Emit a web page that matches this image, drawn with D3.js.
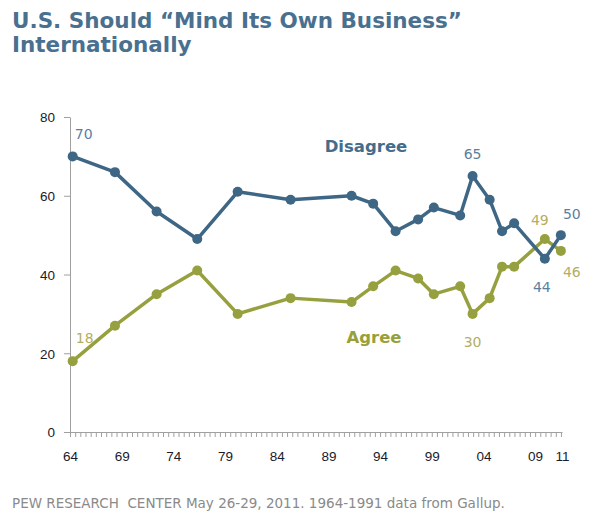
<!DOCTYPE html>
<html lang="en">
<head>
    <meta charset="UTF-8">
    <title>U.S. Should "Mind Its Own Business" Internationally</title>
    <script src="https://d3js.org/d3.v7.min.js"></script>
    <style>
        body {
            margin: 0;
            background: #fff;
            font-family: "DejaVu Sans", Verdana, sans-serif;
        }
        .title {
            font-size: 21.5px;
            font-weight: bold;
            fill: #4a7090;
        }
        .axis text {
            font-size: 13.5px;
            fill: #1a1a2a;
        }
        .axis path, .axis line {
            stroke: #a0a0a0;
        }
        .val-label {
            font-size: 14px;
            text-anchor: middle;
        }
        .series-label {
            font-size: 16.5px;
            font-weight: bold;
            text-anchor: middle;
        }
        .source {
            font-size: 13.5px;
            fill: #8a8a8a;
        }
    </style>
</head>
<body>
<svg width="595" height="518"></svg>
<script>
    // Survey dates (decimal years, read from the point positions)
    const years = [1964.26, 1968.35, 1972.38, 1976.31, 1980.22, 1985.34, 1991.24, 1993.33, 1995.5,
                   1997.68, 1999.2, 2001.75, 2002.95, 2004.6, 2005.8, 2006.97, 2009.94, 2011.49];
    const disagree = [70, 66, 56, 49, 61, 59, 60, 58, 51, 54, 57, 55, 65, 59, 51, 53, 44, 50];
    const agree    = [18, 27, 35, 41, 30, 34, 33, 37, 41, 39, 35, 37, 30, 34, 42, 42, 49, 46];

    // x axis tick labels (last one sits at the end of the axis)
    const tickYears  = [1964, 1969, 1974, 1979, 1984, 1989, 1994, 1999, 2004, 2009, 2011.6];
    const tickLabels = ["64", "69", "74", "79", "84", "89", "94", "99", "04", "09", "11"];
    const yTicks = [0, 20, 40, 60, 80];

    // which points get a number next to them
    const disagreeShown = [0, 12, 16, 17];
    const agreeShown    = [0, 12, 16, 17];

    const blue = "#3e6685";
    const green = "#97a03e";

    const svg = d3.select("svg");

    const x = d3.scaleLinear().domain([1964, 2011.6]).range([70, 562]);
    const y = d3.scaleLinear().domain([0, 80]).range([432, 117]);

    // Title
    const title = svg.append("text").attr("class", "title").attr("x", 12).attr("y", 28);
    title.append("tspan").attr("x", 12).text("U.S. Should \u201CMind Its Own Business\u201D");
    title.append("tspan").attr("x", 12).attr("dy", 24).text("Internationally");

    // y axis
    svg.append("g")
        .attr("class", "axis")
        .attr("transform", `translate(${x(1964)},0)`)
        .call(d3.axisLeft(y).tickValues(yTicks).tickSize(6).tickSizeOuter(0).tickPadding(9))
        .call(g => g.selectAll("text").attr("dy", "0.36em"));

    // x axis: minor half-year ticks
    const minor = d3.range(1964, 2011.6, 0.5);
    svg.append("g")
        .attr("class", "axis")
        .attr("transform", `translate(0,${y(0)})`)
        .call(d3.axisBottom(x).tickValues(minor).tickSize(5).tickSizeOuter(0).tickFormat(""));

    // x axis labels
    svg.append("g")
        .attr("class", "axis")
        .attr("transform", `translate(0,${y(0)})`)
        .call(d3.axisBottom(x).tickValues(tickYears).tickSize(0).tickPadding(19)
            .tickFormat((d, i) => tickLabels[i]))
        .call(g => g.select(".domain").remove());

    const line = d3.line().x((d, i) => x(years[i])).y(d => y(d));

    function drawSeries(values, color) {
        svg.append("path")
            .datum(values)
            .attr("fill", "none")
            .attr("stroke", color)
            .attr("stroke-width", 3.5)
            .attr("stroke-linejoin", "round")
            .attr("d", line);
        svg.append("g")
            .selectAll("circle")
            .data(values)
            .join("circle")
            .attr("cx", (d, i) => x(years[i]))
            .attr("cy", d => y(d))
            .attr("r", 5)
            .attr("fill", color);
    }

    drawSeries(agree, green);
    drawSeries(disagree, blue);

    // Value labels
    const valBlue = "#5a7fa0";
    const valGreen = "#b5ad62";
    const dLabelOffsets = [[11, -22], [0, -22], [-3, 28], [11, -21]];
    const aLabelOffsets = [[12, -23], [0, 28], [-5, -19], [11, 21]];

    svg.append("g").selectAll("text")
        .data(disagreeShown)
        .join("text")
        .attr("class", "val-label")
        .attr("fill", valBlue)
        .attr("x", (d, i) => x(years[d]) + dLabelOffsets[i][0])
        .attr("y", (d, i) => y(disagree[d]) + dLabelOffsets[i][1])
        .attr("dy", "0.36em")
        .text(d => disagree[d]);

    svg.append("g").selectAll("text")
        .data(agreeShown)
        .join("text")
        .attr("class", "val-label")
        .attr("fill", valGreen)
        .attr("x", (d, i) => x(years[d]) + aLabelOffsets[i][0])
        .attr("y", (d, i) => y(agree[d]) + aLabelOffsets[i][1])
        .attr("dy", "0.36em")
        .text(d => agree[d]);

    // Series names
    svg.append("text").attr("class", "series-label").attr("fill", "#466c8c")
        .attr("x", 366).attr("y", 152).text("Disagree");
    svg.append("text").attr("class", "series-label").attr("fill", "#97a03a")
        .attr("x", 374).attr("y", 343).text("Agree");

    // Source line
    svg.append("text").attr("class", "source").attr("x", 12).attr("y", 508)
        .attr("xml:space", "preserve")
        .text("PEW RESEARCH  CENTER May 26-29, 2011. 1964-1991 data from Gallup.");
</script>
</body>
</html>
